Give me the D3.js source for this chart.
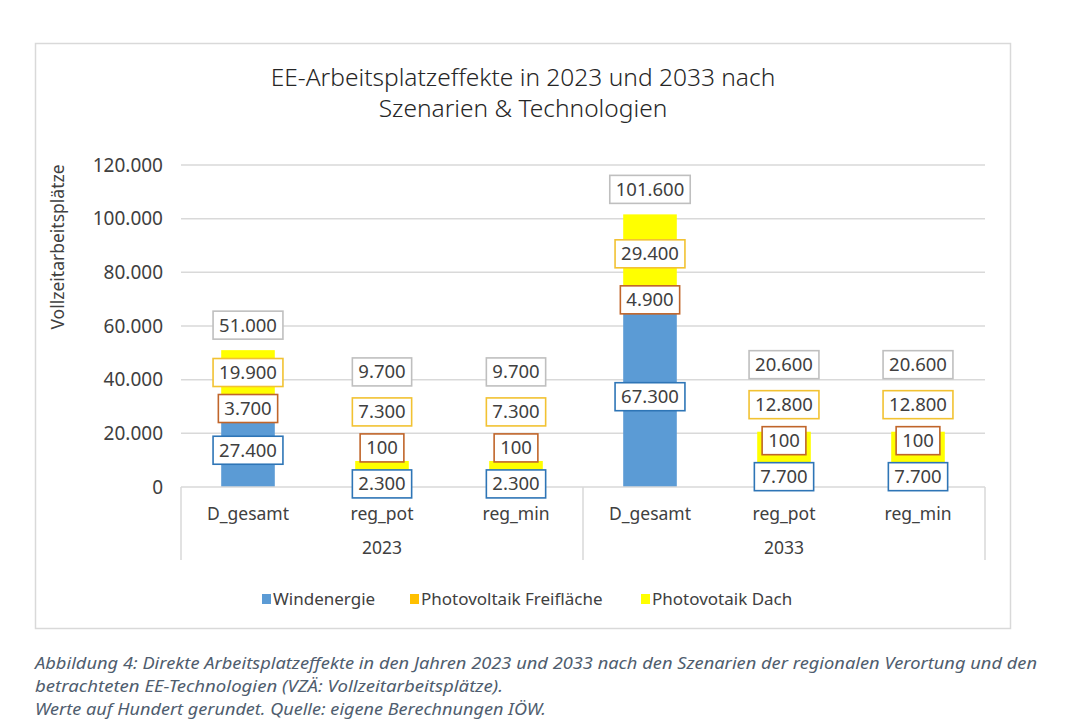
<!DOCTYPE html>
<html><head><meta charset="utf-8">
<script src="https://cdn.jsdelivr.net/npm/d3@7"></script>
<style>
html,body{margin:0;padding:0;background:#fff;}
svg{display:block;}
text{font-family:"Noto Sans","Open Sans",sans-serif;}
</style></head>
<body>
<svg id="c" width="1079" height="728"></svg>
<script>
// ---- data ----
const years = ["2023", "2033"];
const scenarios = ["D_gesamt", "reg_pot", "reg_min"];
const windenergie = [27400, 2300, 2300, 67300, 7700, 7700];
const pvFreiflaeche = [3700, 100, 100, 4900, 100, 100];
const pvDach = [19900, 7300, 7300, 29400, 12800, 12800];
const gesamt = [51000, 9700, 9700, 101600, 20600, 20600];
const seriesNames = ["Windenergie", "Photovoltaik Freifläche", "Photovotaik Dach"];
const yTicks = [0, 20000, 40000, 60000, 80000, 100000, 120000];
const titleLines = ["EE-Arbeitsplatzeffekte in 2023 und 2033 nach", "Szenarien & Technologien"];
const yTitle = "Vollzeitarbeitsplätze";
const captionLines = [
  "Abbildung 4: Direkte Arbeitsplatzeffekte in den Jahren 2023 und 2033 nach den Szenarien der regionalen Verortung und den",
  "betrachteten EE-Technologien (VZÄ: Vollzeitarbeitsplätze).",
  "Werte auf Hundert gerundet. Quelle: eigene Berechnungen IÖW."
];

// ---- build ----
const colors = ["#5b9bd5", "#ffc000", "#ffff00"];
const labelBorders = ["#2e75b6", "#c0652a", "#f2c232"];
const totalBorder = "#bfbfbf";
const fmt = v => d3.format(",")(v).replace(/,/g, ".");

const cats = [];
years.forEach(y => scenarios.forEach(s => cats.push({year: y, scen: s, key: y + "|" + s})));
const rows = cats.map((c, i) => ({key: c.key, w: windenergie[i], f: pvFreiflaeche[i], d: pvDach[i], total: gesamt[i]}));

const svg = d3.select("#c");

// outer frame
svg.append("rect").attr("x", 35.5).attr("y", 43.5).attr("width", 975).attr("height", 585)
  .attr("fill", "#fff").attr("stroke", "#d9d9d9").attr("stroke-width", 1.5);

// title
svg.append("g").selectAll("text").data(titleLines).join("text")
  .attr("x", 523).attr("y", (d, i) => 86 + i * 31)
  .attr("text-anchor", "middle").attr("font-size", 24.5).attr("fill", "#262626")
  .attr("font-weight", 300)
  .text(d => d);

const x0 = 181, x1 = 985;
const y = d3.scaleLinear().domain([0, 120000]).range([487, 165]);
const x = d3.scaleBand().domain(cats.map(c => c.key)).range([x0, x1]).paddingInner(0.6).paddingOuter(0.3);

// gridlines
svg.append("g").selectAll("line").data(yTicks.filter(t => t > 0)).join("line")
  .attr("x1", x0).attr("x2", x1).attr("y1", d => y(d)).attr("y2", d => y(d))
  .attr("stroke", "#d9d9d9").attr("stroke-width", 1.5);

// y axis
const yAxis = d3.axisLeft(y).tickValues(yTicks).tickSize(0).tickPadding(18).tickFormat(fmt);
const ya = svg.append("g").attr("transform", `translate(${x0},0)`).call(yAxis);
ya.select(".domain").remove();
ya.selectAll("text").attr("font-size", 19).attr("fill", "#404040")
  .attr("font-family", "'Noto Sans',sans-serif");

svg.append("text").attr("transform", `translate(64,247) rotate(-90)`)
  .attr("text-anchor", "middle").attr("font-size", 17.5).attr("fill", "#404040").text(yTitle);

// stacked bars
const stack = d3.stack().keys(["w", "f", "d"]);
const stacked = stack(rows);
const gb = svg.append("g");
stacked.forEach((layer, li) => {
  gb.append("g").attr("fill", colors[li]).selectAll("rect").data(layer).join("rect")
    .attr("x", d => x(d.data.key)).attr("width", x.bandwidth())
    .attr("y", d => y(d[1])).attr("height", d => y(d[0]) - y(d[1]));
});

// category axis
const ax = svg.append("g");
ax.append("line").attr("x1", x0).attr("x2", x1).attr("y1", 487).attr("y2", 487)
  .attr("stroke", "#d9d9d9").attr("stroke-width", 1.5);
const sep = [x0, (x0 + x1) / 2, x1];
ax.selectAll("line.sep").data(sep).join("line").attr("class", "sep")
  .attr("x1", d => d).attr("x2", d => d).attr("y1", 487).attr("y2", 560)
  .attr("stroke", "#d9d9d9").attr("stroke-width", 1.5);
ax.selectAll("text.cat").data(cats).join("text").attr("class", "cat")
  .attr("x", d => x(d.key) + x.bandwidth() / 2).attr("y", 520)
  .attr("text-anchor", "middle").attr("font-size", 17.5).attr("fill", "#404040")
  .text(d => d.scen);
ax.selectAll("text.yr").data(years).join("text").attr("class", "yr")
  .attr("x", (d, i) => (sep[i] + sep[i + 1]) / 2).attr("y", 554)
  .attr("text-anchor", "middle").attr("font-size", 17.5).attr("fill", "#404040")
  .text(d => d);

// data labels with collision avoidance
const gl = svg.append("g");
const step = 36;
function drawLabel(cx, cy, txt, border) {
  const g = gl.append("g");
  const t = g.append("text").attr("x", cx).attr("y", cy).attr("dy", "0.35em")
    .attr("text-anchor", "middle").attr("font-size", 18.5).attr("fill", "#404040").text(txt);
  const bb = t.node().getBBox();
  g.insert("rect", "text").attr("x", bb.x - 6).attr("y", cy - 14).attr("width", bb.width + 12).attr("height", 28)
    .attr("fill", "#fff").attr("stroke", border).attr("stroke-width", 1.6);
}
rows.forEach((r, i) => {
  const cx = x(r.key) + x.bandwidth() / 2;
  let prev = Infinity;
  stacked.forEach((layer, li) => {
    const d = layer[i];
    const desired = y((d[0] + d[1]) / 2);
    const cy = Math.min(desired, prev - step);
    drawLabel(cx, cy, fmt(d[1] - d[0]), labelBorders[li]);
    prev = cy;
  });
  const desiredT = y(r.total) - 25;
  const cyT = Math.min(desiredT, prev - step - 4);
  drawLabel(cx, cyT, fmt(r.total), totalBorder);
});

// legend
const legX = [262, 410, 641];
const lg = svg.append("g");
seriesNames.forEach((n, i) => {
  lg.append("rect").attr("x", legX[i]).attr("y", 594).attr("width", 9).attr("height", 10).attr("fill", colors[i]);
  lg.append("text").attr("x", legX[i] + 11).attr("y", 599).attr("dy", "0.35em")
    .attr("font-size", 17).attr("fill", "#404040").text(n);
});

// caption
const capW = [1002, 468, 511];
svg.append("g").selectAll("text").data(captionLines).join("text")
  .attr("x", 35).attr("y", (d, i) => 669 + i * 23)
  .attr("font-size", 17).attr("font-style", "italic").attr("fill", "#4f5d6e")
  .attr("font-family", "'Liberation Sans Narrow','DejaVu Sans Condensed',sans-serif")
  .attr("textLength", (d, i) => capW[i]).attr("lengthAdjust", "spacingAndGlyphs")
  .text(d => d);
</script>
</body></html>
